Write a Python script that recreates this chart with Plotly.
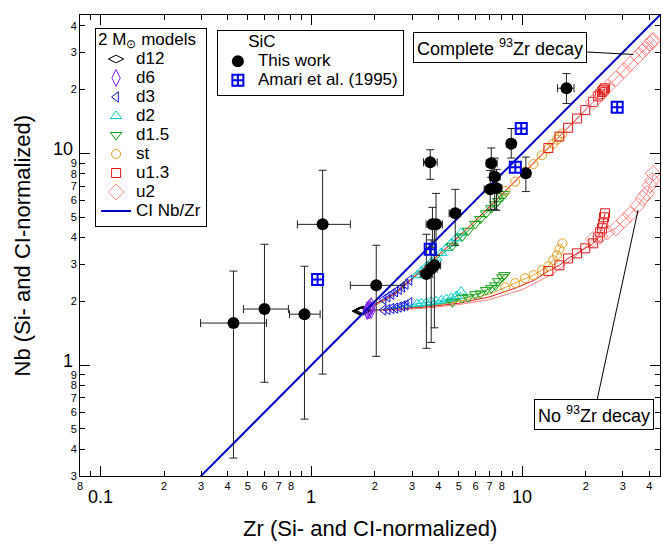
import numpy as np
import plotly.graph_objects as go

# ---------------- data ----------------
# AGB model predictions (Zr, Nb without 93Zr decay, Nb with complete 93Zr decay)
zr_d12 = [1.70, 1.73, 1.76]
nbn_d12 = [1.80, 1.80, 1.80]
nbd_d12 = [1.80, 1.81, 1.82]

zr_d6 = [1.84, 1.88, 1.92]
nbn_d6 = [1.80, 1.81, 1.82]
nbd_d6 = [1.82, 1.86, 1.90]

zr_d3 = [2.20, 2.30, 2.40, 2.50, 2.60, 2.70, 2.80, 2.92]
nbn_d3 = [1.82, 1.83, 1.85, 1.86, 1.88, 1.90, 1.92, 1.97]
nbd_d3 = [2.04, 2.10, 2.16, 2.22, 2.28, 2.34, 2.41, 2.52]

zr_d2 = [3.18, 3.32, 3.51, 3.70, 3.91, 4.13, 4.37, 4.61, 4.87, 5.13]
nbn_d2 = [1.95, 1.96, 1.97, 1.99, 2.00, 2.02, 2.05, 2.08, 2.12, 2.22]
nbd_d2 = [2.66, 2.77, 2.92, 3.06, 3.22, 3.39, 3.57, 3.76, 3.97, 4.22]

zr_d15 = [4.66, 5.19, 5.54, 5.99, 6.33, 6.74, 7.13, 7.45, 7.69, 8.04, 8.22]
nbn_d15 = [1.98, 2.07, 2.09, 2.16, 2.18, 2.26, 2.31, 2.38, 2.49, 2.60, 2.66]
nbd_d15 = [3.66, 4.05, 4.31, 4.64, 4.90, 5.21, 5.50, 5.75, 5.96, 6.26, 6.42]

zr_st = [8.30, 9.26, 10.3, 11.3, 12.4, 13.3, 14.0, 14.6, 15.0, 15.5]
nbn_st = [2.33, 2.44, 2.57, 2.66, 2.81, 2.93, 3.13, 3.30, 3.52, 3.76]
nbd_st = [6.65, 7.35, 8.20, 8.90, 9.80, 10.5, 11.1, 11.6, 12.0, 12.4]

zr_u13 = [13.3, 15.0, 16.5, 18.2, 19.9, 21.7, 22.9, 23.4, 23.9, 24.2, 24.4, 24.7]
nbn_u13 = [2.78, 2.96, 3.19, 3.37, 3.56, 3.76, 4.01, 4.24, 4.43, 4.67, 4.99, 5.21]
nbd_u13 = [10.6, 12.0, 13.2, 14.6, 16.0, 17.5, 18.6, 19.0, 19.5, 19.8, 20.0, 20.3]

zr_u2 = [21.7, 23.4, 25.3, 27.8, 30.4, 32.5, 35.4, 37.3, 39.0, 40.3, 41.3, 41.7]
nbn_u2 = [3.93, 4.06, 4.24, 4.43, 4.83, 5.15, 5.68, 6.13, 6.47, 7.06, 7.45, 8.05]
nbd_u2 = [17.5, 18.9, 20.5, 22.5, 24.6, 26.4, 28.8, 30.4, 31.8, 32.9, 33.8, 34.2]

# early (O-rich) pulses, drawn as line only
trk_zr_d3 = [1.76]
trk_nbn_d3 = [1.80]
trk_nbd_d3 = [1.80]
trk_zr_d2 = [1.76, 2.4]
trk_nbn_d2 = [1.80, 1.85]
trk_nbd_d2 = [1.80, 2.10]
trk_zr_d15 = [1.76, 2.3, 3.0, 3.9]
trk_nbn_d15 = [1.80, 1.83, 1.88, 1.93]
trk_nbd_d15 = [1.80, 2.05, 2.55, 3.15]
trk_zr_st = [1.76, 2.4, 3.3, 4.5, 6.0, 7.3]
trk_nbn_st = [1.80, 1.83, 1.88, 1.96, 2.08, 2.20]
trk_nbd_st = [1.80, 2.12, 2.80, 3.65, 4.80, 5.85]
trk_zr_u13 = [1.76, 2.5, 3.5, 5.0, 7.0, 9.5, 11.5]
trk_nbn_u13 = [1.80, 1.83, 1.88, 1.96, 2.10, 2.33, 2.53]
trk_nbd_u13 = [1.80, 2.18, 2.95, 4.05, 5.60, 7.55, 9.20]
trk_zr_u2 = [1.76, 2.5, 3.5, 5.0, 7.0, 10.0, 14.0, 18.0]
trk_nbn_u2 = [1.80, 1.82, 1.86, 1.93, 2.04, 2.27, 2.70, 3.28]
trk_nbd_u2 = [1.80, 2.15, 2.92, 4.02, 5.55, 7.95, 11.2, 14.5]

# SiC grains, this work (value, low bound, high bound)
sic_zr = [0.427, 0.599, 0.927, 1.13, 2.03, 3.51, 3.70, 3.83, 3.66, 3.75, 3.90, 4.81, 7.05, 7.13, 7.40, 7.55, 8.87, 10.4, 16.2]
sic_zr_lo = [0.298, 0.476, 0.787, 0.858, 1.53, 3.28, 3.46, 3.58, 3.40, 3.50, 3.64, 4.50, 6.60, 6.75, 7.00, 7.10, 8.45, 9.9, 14.7]
sic_zr_hi = [0.612, 0.778, 1.10, 1.53, 2.73, 3.76, 3.95, 4.10, 3.95, 4.02, 4.18, 5.10, 7.50, 7.60, 7.85, 8.00, 9.30, 10.9, 17.6]
sic_nb = [1.58, 1.84, 1.74, 4.62, 2.38, 2.69, 2.85, 2.96, 9.07, 4.62, 4.62, 5.21, 6.76, 8.97, 7.75, 6.85, 11.1, 8.05, 20.3]
sic_nb_lo = [0.364, 0.83, 0.556, 0.907, 1.10, 1.20, 1.28, 1.50, 7.54, 3.60, 3.30, 3.68, 5.40, 7.70, 5.44, 5.38, 9.5, 6.6, 17.2]
sic_nb_hi = [2.78, 3.72, 2.93, 8.32, 3.68, 4.15, 3.90, 4.60, 10.4, 5.56, 6.47, 6.76, 8.30, 10.6, 9.50, 8.40, 13.1, 9.6, 23.8]

# Amari et al. (1995)
amari_zr = [1.07, 3.66, 9.27, 9.89, 28.2]
amari_nb = [2.54, 3.52, 8.59, 13.1, 16.5]

# CI (solar) Nb/Zr ratio
ci_ratio = 1.0
ci_zr = [0.08, 45.0]

# axis ticks
x_minor_vals = [0.08, 0.09, 0.2, 0.3, 0.4, 0.5, 0.6, 0.7, 0.8, 0.9,
                2, 3, 4, 5, 6, 7, 8, 9, 20, 30, 40]
x_minor_text = ["8", "", "2", "3", "4", "5", "6", "7", "8", "",
                "2", "3", "4", "5", "6", "7", "8", "", "2", "3", "4"]
x_major_vals = [0.1, 1, 10]
x_major_text = ["0.1", "1", "10"]
y_minor_vals = [0.3, 0.4, 0.5, 0.6, 0.7, 0.8, 0.9,
                2, 3, 4, 5, 6, 7, 8, 9, 20, 30, 40]
y_minor_text = ["3", "4", "5", "6", "7", "8", "9",
                "2", "3", "4", "5", "6", "7", "8", "9", "2", "3", "4"]
y_major_vals = [1, 10]
y_major_text = ["1", "10"]

# ---------------- figure ----------------
FONT = "Liberation Sans, Arial, Helvetica, sans-serif"
LEG = "<span style='font-size:17px'>%s</span>"
fig = go.Figure()

models = [
    ("d12", zr_d12, nbn_d12, nbd_d12, None, None, None, "black", "diamond-wide-open", 11),
    ("d6", zr_d6, nbn_d6, nbd_d6, None, None, None, "#7a1ee8", "diamond-tall-open", 12),
    ("d3", zr_d3, nbn_d3, nbd_d3, trk_zr_d3, trk_nbn_d3, trk_nbd_d3, "#1010e0", "triangle-left-open", 9),
    ("d2", zr_d2, nbn_d2, nbd_d2, trk_zr_d2, trk_nbn_d2, trk_nbd_d2, "#00cccc", "triangle-up-open", 10),
    ("d1.5", zr_d15, nbn_d15, nbd_d15, trk_zr_d15, trk_nbn_d15, trk_nbd_d15, "#12a012", "triangle-down-open", 10),
    ("st", zr_st, nbn_st, nbd_st, trk_zr_st, trk_nbn_st, trk_nbd_st, "#e0a020", "circle-open", 9),
    ("u1.3", zr_u13, nbn_u13, nbd_u13, trk_zr_u13, trk_nbn_u13, trk_nbd_u13, "#e01818", "square-open", 9),
    ("u2", zr_u2, nbn_u2, nbd_u2, trk_zr_u2, trk_nbn_u2, trk_nbd_u2, "#ff8080", "diamond-open", 12),
]

# model lines first
for name, zr, nbn, nbd, tz, tn, td, col, sym, sz in models:
    if tz is None:
        continue
    for nb, tnb in ((nbn, tn), (nbd, td)):
        fig.add_trace(go.Scatter(x=list(tz) + list(zr), y=list(tnb) + list(nb), mode="lines",
                                 line=dict(color=col, width=1), showlegend=False,
                                 hoverinfo="skip"))

for name, zr, nbn, nbd, tz, tn, td, col, sym, sz in models:
    fig.add_trace(go.Scatter(x=list(zr) + list(zr), y=list(nbn) + list(nbd), mode="markers",
                             marker=dict(symbol=sym, size=sz, color=col, line=dict(color=col, width=1)),
                             name=LEG % name, legend="legend"))

ci_nb = [ci_ratio * z for z in ci_zr]
fig.add_trace(go.Scatter(x=ci_zr, y=ci_nb, mode="lines", line=dict(color="#0000c8", width=2),
                         name=LEG % "CI Nb/Zr", legend="legend"))

zr_a = np.array(sic_zr); nb_a = np.array(sic_nb)
fig.add_trace(go.Scatter(
    x=sic_zr, y=sic_nb, mode="markers", name=LEG % "This work", legend="legend2",
    marker=dict(symbol="circle", size=12, color="black"),
    error_x=dict(type="data", symmetric=False, array=list(np.array(sic_zr_hi) - zr_a),
                 arrayminus=list(zr_a - np.array(sic_zr_lo)), color="#222222", thickness=1, width=4),
    error_y=dict(type="data", symmetric=False, array=list(np.array(sic_nb_hi) - nb_a),
                 arrayminus=list(nb_a - np.array(sic_nb_lo)), color="#222222", thickness=1, width=4),
))
fig.add_trace(go.Scatter(
    x=amari_zr, y=amari_nb, mode="markers", name=LEG % "Amari et al. (1995)", legend="legend2",
    marker=dict(symbol="square-cross-open", size=11, color="#0000f0", line=dict(color="#0000f0", width=2)),
))

axis_common = dict(type="log", tickmode="array", ticks="inside", ticklen=5, tickwidth=1,
                   tickcolor="black", showline=True, linecolor="black", linewidth=1,
                   mirror="ticks", showgrid=False, zeroline=False,
                   tickfont=dict(size=11, color="black", family=FONT),
                   minor=dict(tickmode="array", ticks="inside", ticklen=10, tickwidth=1,
                              tickcolor="black", showgrid=False))

fig.update_layout(
    width=663, height=544,
    margin=dict(l=80, r=3, t=15, b=68),
    paper_bgcolor="white", plot_bgcolor="white",
    font=dict(family=FONT, color="black"),
    xaxis=dict(axis_common, range=[np.log10(0.0799), np.log10(45)],
               tickvals=x_minor_vals, ticktext=x_minor_text,
               minor=dict(axis_common["minor"], tickvals=x_major_vals)),
    yaxis=dict(axis_common, range=[np.log10(0.2995), np.log10(45)],
               tickvals=y_minor_vals, ticktext=y_minor_text,
               minor=dict(axis_common["minor"], tickvals=y_major_vals)),
    legend=dict(title=dict(text="<span style='font-size:17px'>2 M<sub>⊙</sub> models</span>",
                           font=dict(size=12)),
                x=0.026, y=0.972, xanchor="left", yanchor="top",
                bordercolor="black", borderwidth=1, bgcolor="white",
                font=dict(size=12), tracegroupgap=0),
    legend2=dict(title=dict(text="<span style='font-size:17px'>      SiC</span>", font=dict(size=12)),
                 x=0.236, y=0.967, xanchor="left", yanchor="top",
                 bordercolor="black", borderwidth=1, bgcolor="white",
                 font=dict(size=12)),
    showlegend=True,
)

annotations = []
for v, t in zip(x_major_vals, x_major_text):
    annotations.append(dict(x=np.log10(v), y=-0.046, xref="x", yref="paper", text=t,
                            showarrow=False, font=dict(size=18), xanchor="center", yanchor="middle"))
for v, t in zip(y_major_vals, y_major_text):
    annotations.append(dict(x=-0.009, y=np.log10(v), xref="paper", yref="y", text=t,
                            showarrow=False, font=dict(size=18), xanchor="right", yanchor="middle",
                            yshift=4))
annotations.append(dict(x=0.5, y=-0.113, xref="paper", yref="paper",
                        text="Zr (Si- and CI-normalized)", showarrow=False,
                        font=dict(size=22), xanchor="center", yanchor="middle"))
annotations.append(dict(x=-0.1, y=0.5, xref="paper", yref="paper",
                        text="Nb (Si- and CI-normalized)", showarrow=False, textangle=-90,
                        font=dict(size=22), xanchor="center", yanchor="middle"))
annotations.append(dict(x=np.log10(33.6), y=np.log10(29.3), xref="x", yref="y",
                        text="Complete <sup>93</sup>Zr decay", showarrow=True, arrowhead=0,
                        arrowwidth=1, arrowcolor="black", ax=-133, ay=-7,
                        bordercolor="black", borderwidth=1, borderpad=3, bgcolor="white",
                        font=dict(size=18)))
annotations.append(dict(x=np.log10(35.4), y=np.log10(5.39), xref="x", yref="y",
                        text="No <sup>93</sup>Zr decay", showarrow=True, arrowhead=0,
                        arrowwidth=1, arrowcolor="black", ax=-44, ay=204,
                        bordercolor="black", borderwidth=1, borderpad=3, bgcolor="white",
                        font=dict(size=18)))
fig.update_layout(annotations=annotations)

fig.write_html("out.html", config={"displayModeBar": False},
               post_script="document.body.style.margin='0px';")
